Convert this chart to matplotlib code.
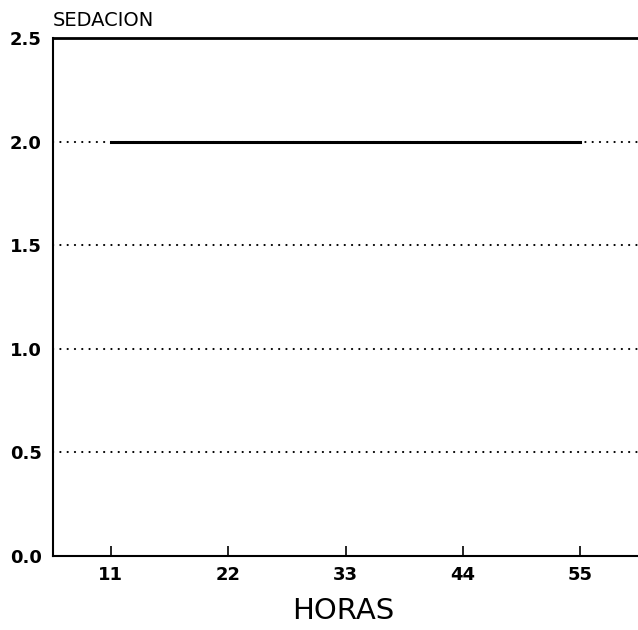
import matplotlib.pyplot as plt

# Sedation score vs hours
horas = [11, 22, 33, 44, 55]
sedacion = [2.0, 2.0, 2.0, 2.0, 2.0]
y_ticks = [0.0, 0.5, 1.0, 1.5, 2.0, 2.5]
grid_levels = [0.5, 1.0, 1.5, 2.0]

plt.rcParams['font.family'] = ['DejaVu Sans']

fig = plt.figure(figsize=(6.38, 6.30), dpi=100)
ax = fig.add_axes([53 / 638, 74 / 630, 1 - 53 / 638, (556 - 38) / 630])

# Dotted reference lines
for level in grid_levels:
    ax.axhline(level, color='black', linewidth=1.5, linestyle=(0, (0.1, 3.4)),
               dash_capstyle='round', zorder=1)

ax.plot(horas, sedacion, color='black', linewidth=2.2, zorder=3)

ax.set_xlim(5.6, 60.4)
ax.set_ylim(0, 2.5)
ax.set_xticks(horas)
ax.set_xticklabels([str(h) for h in horas], fontweight='bold')
ax.set_yticks(y_ticks)
ax.set_yticklabels([f'{v:.1f}' for v in y_ticks], fontweight='bold')

ax.tick_params(axis='x', direction='in', length=7, width=1.2, pad=7.5, labelsize=13)
ax.tick_params(axis='y', length=0, pad=8, labelsize=13)

ax.spines['right'].set_visible(False)
for side in ['left', 'bottom']:
    ax.spines[side].set_linewidth(1.5)
ax.spines['top'].set_linewidth(2.0)

fig.text(53 / 638, 1 - 20 / 630, 'SEDACION', fontsize=14, ha='left', va='center')
fig.text(343 / 638, 1 - 611 / 630, 'HORAS', fontsize=21, ha='center', va='center')

fig.savefig('out.png', dpi=100)
